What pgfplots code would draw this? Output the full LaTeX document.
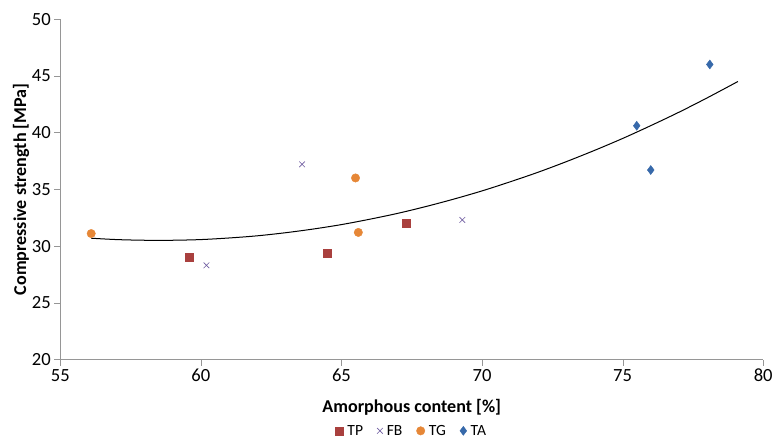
\documentclass[border=0pt]{standalone}
\usepackage{pgfplots}
\pgfplotsset{compat=1.18}
\usepackage{fontspec}
\setmainfont{Carlito}
\definecolor{cTP}{RGB}{169,64,62}
\definecolor{cFB}{RGB}{110,92,160}
\definecolor{cTG}{RGB}{230,135,55}
\definecolor{cTA}{RGB}{55,105,170}
\definecolor{axgray}{RGB}{150,150,150}
\begin{document}
\begin{tikzpicture}
\begin{axis}[
    scale only axis,
    width=700pt,
    height=339pt,
    xmin=55, xmax=80,
    ymin=20, ymax=50,
    xtick={55,60,...,80},
    ytick={20,25,...,50},
    axis lines*=left,
    axis line style={axgray},
    tick style={axgray},
    tick align=outside,
    major tick length=6pt,
    every tick label/.append style={font=\fontsize{18.5}{20}\selectfont},
    /pgf/number format/assume math mode=true,
    xlabel={\textbf{Amorphous content [\%]}},
    ylabel={\textbf{Compressive strength [MPa]}},
    label style={font=\fontsize{18}{20}\selectfont},
    xlabel style={yshift=-10pt},
    ylabel style={inner ysep=13pt, yshift=-14pt},
    legend columns=4,
    legend style={at={(0.5,-0.183)}, anchor=north, draw=none,
        inner sep=1pt,
        font=\fontsize{15.5}{17}\selectfont,
        /tikz/every odd column/.append style={column sep=2pt},
        /tikz/every even column/.append style={column sep=12pt}},
    legend image code/.code={\draw[#1] plot coordinates {(0.12cm,0cm)};},
    % blank margin above the plot area, as in the original
    extra description/.code={\path (rel axis cs:0,1) -- ++(0pt,19pt);},
]
\addplot[only marks, mark=square*, mark size=4pt, color=cTP] coordinates {
    (59.6,29.0) (64.5,29.4) (67.3,32.0)
};
\addlegendentry{TP}
\addplot[only marks, mark=x, mark size=4pt, color=cFB, semithick] coordinates {
    (60.2,28.3) (63.6,37.2) (69.3,32.3)
};
\addlegendentry{FB}
\addplot[only marks, mark=*, mark size=4.2pt, color=cTG] coordinates {
    (56.1,31.1) (65.5,36.0) (65.6,31.2)
};
\addlegendentry{TG}
\addplot[only marks, mark=diamond*, mark size=4.5pt, color=cTA] coordinates {
    (75.5,40.6) (76.0,36.7) (78.1,46.0)
};
\addlegendentry{TA}
\addplot[black, line width=1pt, smooth, forget plot] coordinates {
    (56.1,30.69) (57,30.57) (58,30.51) (59,30.51) (60,30.57) (61,30.71)
    (62,30.90) (63,31.17) (64,31.50) (65,31.89) (66,32.36) (67,32.88)
    (68,33.48) (69,34.14) (70,34.86) (71,35.66) (72,36.51) (73,37.44)
    (74,38.43) (75,39.48) (76,40.61) (77,41.79) (78,43.05) (79.1,44.50)
};
\end{axis}
\end{tikzpicture}
\end{document}
